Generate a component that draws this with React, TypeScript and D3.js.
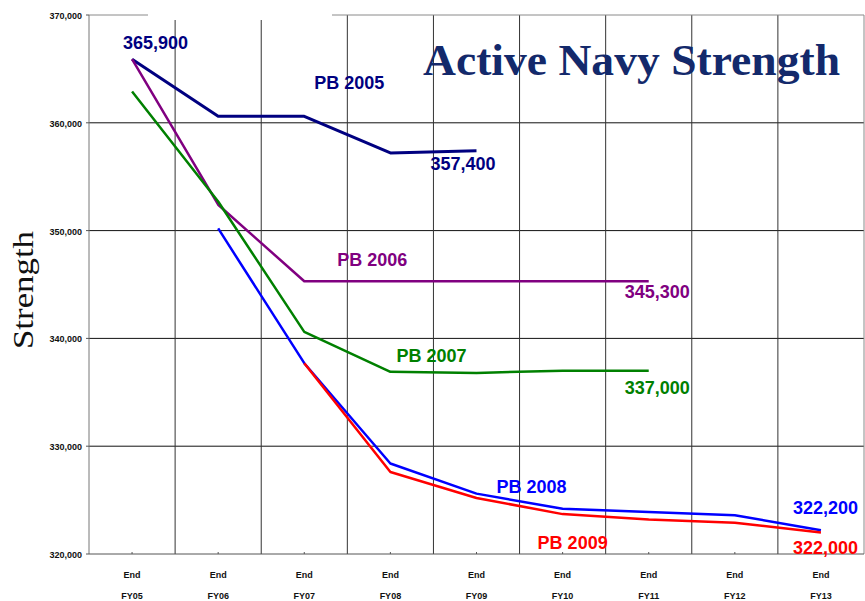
import React from 'react';
import * as d3 from 'd3';

const categories = ['FY05', 'FY06', 'FY07', 'FY08', 'FY09', 'FY10', 'FY11', 'FY12', 'FY13'];
const yTicks = [320000, 330000, 340000, 350000, 360000, 370000];

const pb2005 = [365900, 360600, 360600, 357200, 357400];
const pb2006 = [365900, 352400, 345300, 345300, 345300, 345300, 345300];
const pb2007 = [362900, 352700, 340600, 336900, 336800, 337000, 337000];
const pb2008 = [null, 350200, 337700, 328400, 325600, 324200, 323900, 323600, 322200];
const pb2009 = [null, null, 337700, 327600, 325200, 323700, 323200, 322900, 322000];

const series = [
  { name: 'PB 2005', values: pb2005, color: '#000080', width: 3 },
  { name: 'PB 2006', values: pb2006, color: '#800080', width: 2.5 },
  { name: 'PB 2007', values: pb2007, color: '#008000', width: 2.5 },
  { name: 'PB 2008', values: pb2008, color: '#0000ff', width: 2.5 },
  { name: 'PB 2009', values: pb2009, color: '#ff0000', width: 2.5 },
];

// text labels, each tied to one point of a series (series index, category index)
const labels = [
  { text: '365,900', s: 0, i: 0, dx: -9, dy: -10 },
  { text: 'PB 2005', s: 0, i: 2, dx: 10, dy: -27 },
  { text: '357,400', s: 0, i: 4, dx: -46, dy: 19 },
  { text: 'PB 2006', s: 1, i: 2, dx: 33, dy: -15 },
  { text: '345,300', s: 1, i: 6, dx: -24, dy: 17 },
  { text: 'PB 2007', s: 2, i: 3, dx: 6, dy: -10 },
  { text: '337,000', s: 2, i: 6, dx: -24, dy: 23 },
  { text: 'PB 2008', s: 3, i: 4, dx: 20, dy: -1 },
  { text: '322,200', s: 3, i: 8, dx: -28, dy: -16 },
  { text: 'PB 2009', s: 4, i: 5, dx: -25, dy: 35 },
  { text: '322,000', s: 4, i: 8, dx: -28, dy: 22 },
];

const width = 865;
const height = 601;
const margin = { top: 15, right: 1, bottom: 47, left: 89 };

export default function App() {
  const x = d3.scaleBand<string>()
    .domain(categories)
    .range([margin.left, width - margin.right])
    .padding(0);
  const y = d3.scaleLinear()
    .domain([320000, 370000])
    .range([height - margin.bottom, margin.top]);
  const cx = (i: number) => (x(categories[i]) as number) + x.bandwidth() / 2;
  const bottom = y(320000);
  const top = y(370000);
  const left = margin.left;
  const right = width - margin.right;
  const fmt = d3.format(',');

  const line = d3.line<number | null>()
    .defined((d) => d != null)
    .x((d, i) => cx(i))
    .y((d) => y(d as number));

  const bandEdges = categories.slice(1).map((c) => x(c) as number);

  return (
    <svg width={width} height={height} style={{ position: 'absolute', left: 0, top: 0, background: '#fff' }}>
      {/* horizontal grid */}
      {yTicks.slice(1, -1).map((t) => (
        <line key={t} x1={left} x2={right} y1={y(t)} y2={y(t)} stroke="#111" strokeWidth={1} />
      ))}
      {/* vertical grid at band boundaries */}
      {bandEdges.map((e) => (
        <line key={e} x1={e} x2={e} y1={top} y2={bottom} stroke="#333" strokeWidth={1} />
      ))}
      {/* frame */}
      <line x1={left} x2={right} y1={top} y2={top} stroke="#8a8a8a" />
      <line x1={right} x2={right} y1={top} y2={bottom} stroke="#8a8a8a" />
      <line x1={left} x2={left} y1={top} y2={bottom} stroke="#777" />
      <line x1={left} x2={right} y1={bottom} y2={bottom} stroke="#555" />
      {/* white patch over the top edge */}
      <rect x={148} y={0} width={184} height={20} fill="#fff" />

      {/* y ticks */}
      {yTicks.map((t) => (
        <g key={t}>
          <line x1={left - 3} x2={left} y1={y(t)} y2={y(t)} stroke="#555" />
          <text x={82} y={y(t) + 4} textAnchor="end" fontFamily="Liberation Sans, Arial" fontWeight="bold" fontSize={9} fill="#111">
            {fmt(t)}
          </text>
        </g>
      ))}

      {/* x ticks and labels */}
      {categories.map((c, i) => (
        <g key={c}>
          <line x1={cx(i)} x2={cx(i)} y1={bottom - 2} y2={bottom} stroke="#555" />
          <text x={cx(i)} y={578} textAnchor="middle" fontFamily="Liberation Sans, Arial" fontWeight="bold" fontSize={9} fill="#111">End</text>
          <text x={cx(i)} y={599} textAnchor="middle" fontFamily="Liberation Sans, Arial" fontWeight="bold" fontSize={9} fill="#111">{c}</text>
        </g>
      ))}

      {/* series lines */}
      {series.map((s) => (
        <path key={s.name} d={line(s.values) || ''} fill="none" stroke={s.color} strokeWidth={s.width} strokeLinejoin="round" />
      ))}

      {/* annotations */}
      {labels.map((l) => (
        <text
          key={l.text}
          x={cx(l.i) + l.dx}
          y={y(series[l.s].values[l.i] as number) + l.dy}
          fontFamily="Liberation Sans, Arial"
          fontWeight="bold"
          fontSize={18}
          fill={series[l.s].color}
        >
          {l.text}
        </text>
      ))}

      {/* title */}
      <text x={423} y={75} fontFamily="Liberation Serif, serif" fontWeight="bold" fontSize={45} fill="#13296b" textLength={417} lengthAdjust="spacingAndGlyphs">
        Active Navy Strength
      </text>

      {/* y axis title */}
      <text
        transform="translate(33, 290) rotate(-90)"
        textAnchor="middle"
        fontFamily="Liberation Serif, serif"
        fontSize={30}
        fill="#111"
        textLength={118}
        lengthAdjust="spacingAndGlyphs"
      >
        Strength
      </text>
    </svg>
  );
}
